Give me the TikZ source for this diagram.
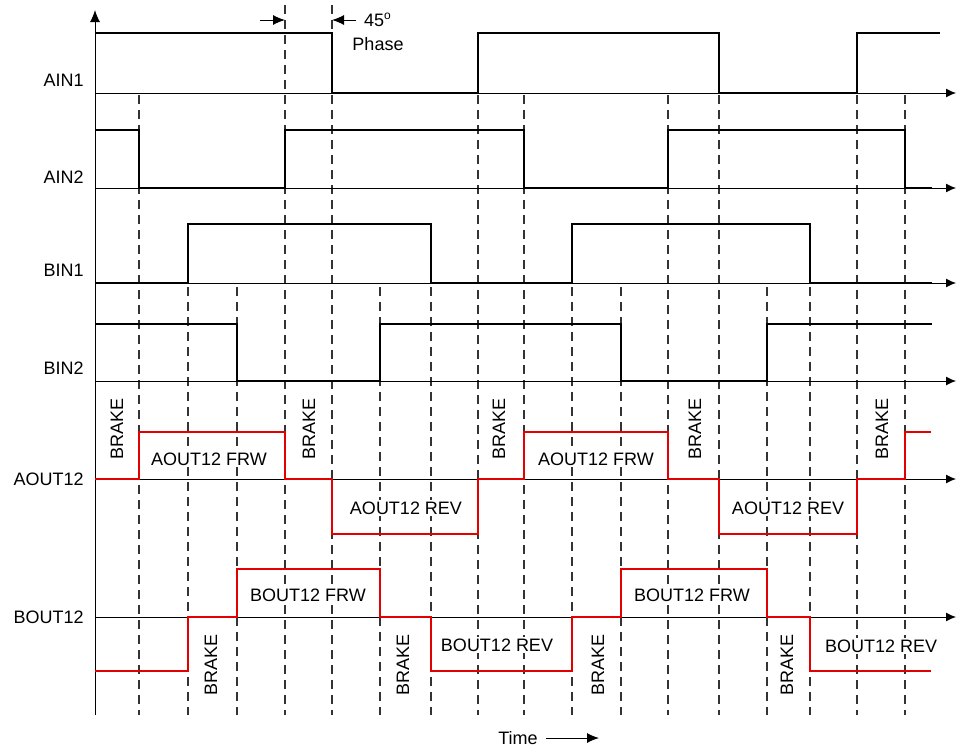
\documentclass[tikz,border=0pt]{standalone}
\usepackage{fontspec}
\setmainfont{Liberation Sans}
\usetikzlibrary{arrows.meta}
\definecolor{outred}{RGB}{226,0,0}

\begin{document}
\begin{tikzpicture}[x=0.5pt, y=-0.5pt,
        axis/.style={black, line width=0.5pt},
        guide/.style={black!80, line width=0.6pt, dash pattern=on 4.5pt off 3pt},
        wave/.style={black, line width=1.3pt},
        outwave/.style={outred, line width=1.3pt},
        lbl/.style={font=\small, inner sep=1pt},
        boxlbl/.style={font=\small, inner sep=1pt, fill=white},
        brake/.style={font=\small, inner sep=1pt, rotate=90},
        >={Latex[length=6pt,width=5pt]}]
        \useasboundingbox (0,0) rectangle (956,750);

        \foreach \x in {139,478,524,668,719,857,905} {
            \draw [guide] (\x,95) -- (\x,715);
        }
        \foreach \x in {285,332} {
            \draw [guide] (\x,5) -- (\x,715);
        }
        \foreach \x in {188,237,380,431,572,621,767,810} {
            \draw [guide] (\x,287) -- (\x,715);
        }

        \coordinate (origin) at (95,715);
        \coordinate (ytop) at (95,10);
        \draw [axis, ->] (origin) -- (ytop);
        \foreach \y in {93,188,283,381,479,617} {
            \draw [axis, ->, >={Latex[length=5pt,width=4.5pt]}] (95,\y) -- (956,\y);
        }

        \draw [wave] (95,33) -- (332,33) -- (332,93) -- (478,93) -- (478,33) -- (719,33) -- (719,93) -- (857,93) -- (857,33) -- (940,33);
        \draw [wave] (95,130) -- (139,130) -- (139,188) -- (285,188) -- (285,130) -- (524,130) -- (524,188) -- (668,188) -- (668,130) -- (905,130) -- (905,188) -- (932,188);
        \draw [wave] (95,283) -- (188,283) -- (188,224) -- (431,224) -- (431,283) -- (572,283) -- (572,224) -- (810,224) -- (810,283) -- (932,283);
        \draw [wave] (95,324) -- (237,324) -- (237,381) -- (380,381) -- (380,324) -- (621,324) -- (621,381) -- (767,381) -- (767,324) -- (932,324);

        \draw [outwave] (95,479) -- (139,479) -- (139,432) -- (285,432) -- (285,479) -- (332,479) -- (332,534) -- (478,534) -- (478,479) -- (524,479) -- (524,432) -- (668,432) -- (668,479) -- (719,479) -- (719,534) -- (857,534) -- (857,479) -- (905,479) -- (905,432) -- (931,432);
        \draw [outwave] (95,671) -- (188,671) -- (188,617) -- (237,617) -- (237,569) -- (380,569) -- (380,617) -- (431,617) -- (431,671) -- (572,671) -- (572,617) -- (621,617) -- (621,569) -- (767,569) -- (767,617) -- (810,617) -- (810,671) -- (931,671);

        \node [lbl, anchor=east] (ain1) at (86,80) {AIN1};
        \node [lbl, anchor=east] (ain2) at (86,177) {AIN2};
        \node [lbl, anchor=east] (bin1) at (86,270) {BIN1};
        \node [lbl, anchor=east] (bin2) at (86,368) {BIN2};
        \node [lbl, anchor=east] (aout) at (86,479) {AOUT12};
        \node [lbl, anchor=east] (bout) at (86,617) {BOUT12};

        \node [boxlbl] (afrw1) at (209,459) {AOUT12 FRW};
        \node [boxlbl] (arev1) at (406,508) {AOUT12 REV};
        \node [boxlbl] (afrw2) at (596,459) {AOUT12 FRW};
        \node [boxlbl] (arev2) at (788,508) {AOUT12 REV};
        \node [boxlbl] (bfrw1) at (308,595) {BOUT12 FRW};
        \node [boxlbl] (brev1) at (497,645) {BOUT12 REV};
        \node [boxlbl] (bfrw2) at (692,595) {BOUT12 FRW};
        \node [boxlbl] (brev2) at (881,646) {BOUT12 REV};

        \foreach \x [count=\i] in {117,309,499,695,882} {
            \node [brake] (abrk\i) at (\x,429) {BRAKE};
        }
        \foreach \x [count=\i] in {211,403,598,787} {
            \node [brake] (bbrk\i) at (\x,665) {BRAKE};
        }

        \coordinate (phl) at (260,20);
        \coordinate (phla) at (285,20);
        \coordinate (phr) at (356,20);
        \coordinate (phra) at (332,20);
        \draw [axis, ->] (phl) -- (phla);
        \draw [axis, ->] (phr) -- (phra);
        \node [lbl] (deg) at (378,20) {45\textsuperscript{o}};
        \node [lbl] (phase) at (378,44) {Phase};

        \node [lbl] (time) at (518,738) {Time};
        \coordinate (timeend) at (599,738);
        \draw [axis, ->] ([xshift=3pt]time.east) -- (timeend);
\end{tikzpicture}
\end{document}
